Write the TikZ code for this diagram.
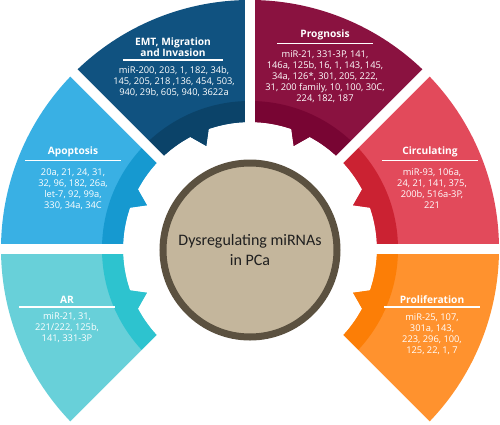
\documentclass[tikz,border=0pt]{standalone}
\usepackage{fontspec}
\setmainfont{Open Sans}
\newfontfamily\hubfont{Carlito}
\usetikzlibrary{positioning}

\definecolor{emtMain}{HTML}{105280}
\definecolor{emtBand}{HTML}{0B4369}
\definecolor{progMain}{HTML}{8A1240}
\definecolor{progBand}{HTML}{780533}
\definecolor{apoMain}{HTML}{39B0E4}
\definecolor{apoBand}{HTML}{1699D0}
\definecolor{circMain}{HTML}{E24A5B}
\definecolor{circBand}{HTML}{CB2232}
\definecolor{arMain}{HTML}{68D0D9}
\definecolor{arBand}{HTML}{2DC3CF}
\definecolor{prolMain}{HTML}{FF922E}
\definecolor{prolBand}{HTML}{FC7E06}
\definecolor{hubFill}{HTML}{C4B69C}
\definecolor{hubLine}{HTML}{5B5140}

\begin{document}
\begin{tikzpicture}%
        [x=1pt, y=1pt,
        title/.style={font=\bfseries\fontsize{10.2}{11}\selectfont, text=white, align=center, inner sep=0pt},
        body/.style={font=\fontsize{9.3}{11}\selectfont, text=white, align=center, inner sep=0pt},
        rule/.style={white, line width=1.4pt},
        gap/.style={white, line width=10pt},
        hub/.style={circle, fill=hubFill, draw=hubLine, line width=7pt, minimum size=174pt, align=center,
          font=\hubfont\fontsize{16}{20}\selectfont, text=black!88}]
    %
    \useasboundingbox (-250,-175) rectangle (250,249);
    %
    %% Drawing the sectors
    \foreach \edgeang/\dir/\main/\band in {180/-1/apoMain/apoBand, 180/1/arMain/arBand,
        90/1/emtMain/emtBand, 90/-1/progMain/progBand, 0/1/circMain/circBand, 0/-1/prolMain/prolBand} {
      \pgfmathsetmacro{\farang}{\edgeang+45*\dir}
      \pgfmathsetmacro{\tailA}{\edgeang+19*\dir}
      \pgfmathsetmacro{\tailB}{\edgeang+23*\dir}
      \pgfmathsetmacro{\tailC}{\edgeang+28*\dir}
      \begin{scope}
        \clip (\edgeang:249) arc[start angle=\edgeang, end angle=\farang, radius=249]
          -- (\farang:127) arc[start angle=\farang, end angle=\tailC, radius=127]
          -- (\tailB:112) -- (\tailA:127) arc[start angle=\tailA, end angle=\edgeang, radius=127] -- cycle;
        \fill[\main] (0,0) circle (250);
        \fill[\band] (0,0) circle (148);
      \end{scope}
    }
    %% Drawing the gaps
    \foreach \a in {0,45,90,135,180,225,315}
      \draw[gap] (0,0) -- (\a:260);
    %
    %% Centre
    \node[hub] (hub) at (0,-1) {Dysregulating miRNAs\\in PCa};
    %
    %% EMT, Migration and Invasion
    \node[title] (emtT) at (-77,201.5) {EMT, Migration\\and Invasion};
    \draw[rule] ([xshift=-50pt,yshift=-3pt]emtT.south) -- ++(100,0);
    \node[body] (emtB) at (-76,167) {miR-200, 203, 1, 182, 34b,\\145, 205, 218 ,136, 454, 503,\\940, 29b, 605, 940, 3622a};
    %% Prognosis
    \node[title] (progT) at (75,214) {Prognosis};
    \draw[rule] ([xshift=-48pt,yshift=-3pt]progT.south) -- ++(96,0);
    \node[body] (progB) at (75,172) {miR-21, 331-3P, 141,\\146a, 125b, 16, 1, 143, 145,\\34a, 126*, 301, 205, 222,\\31, 200 family, 10, 100, 30C,\\224, 182, 187};
    %% Apoptosis
    \node[title] (apoT) at (-177,97) {Apoptosis};
    \draw[rule] ([xshift=-48pt,yshift=-3pt]apoT.south) -- ++(96,0);
    \node[body] (apoB) at (-177,59.5) {20a, 21, 24, 31,\\32, 96, 182, 26a,\\let-7, 92, 99a,\\330, 34a, 34C};
    %% Circulating
    \node[title] (circT) at (180,97) {Circulating};
    \draw[rule] ([xshift=-48pt,yshift=-3pt]circT.south) -- ++(96,0);
    \node[body] (circB) at (182,60.5) {miR-93, 106a,\\24, 21, 141, 375,\\200b, 516a-3P,\\221};
    %% AR
    \node[title] (arT) at (-183,-51) {AR};
    \draw[rule] ([xshift=-48pt,yshift=-3pt]arT.south) -- ++(96,0);
    \node[body] (arB) at (-183,-79) {miR-21, 31,\\221/222, 125b,\\141, 331-3P};
    %% Proliferation
    \node[title] (prolT) at (182,-51) {Proliferation};
    \draw[rule] ([xshift=-48pt,yshift=-3pt]prolT.south) -- ++(96,0);
    \node[body] (prolB) at (182,-85.5) {miR-25, 107,\\301a, 143,\\223, 296, 100,\\125, 22, 1, 7};
    %%
\end{tikzpicture}
\end{document}
